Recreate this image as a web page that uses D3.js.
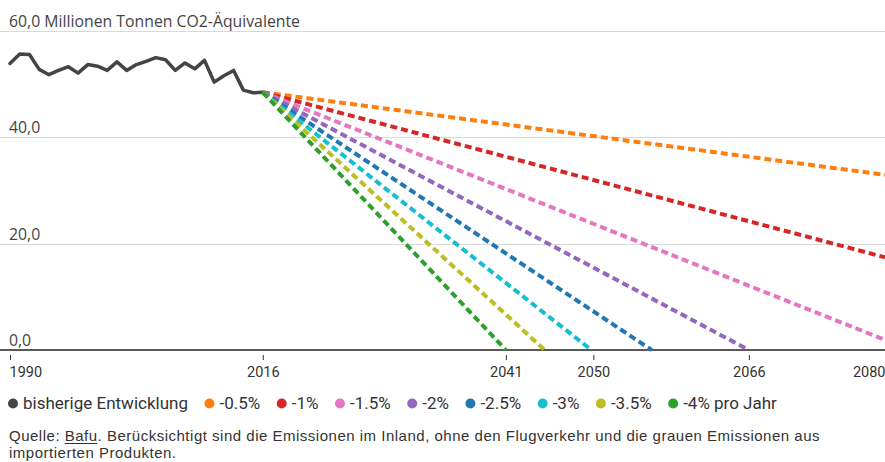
<!DOCTYPE html>
<html>
<head>
<meta charset="utf-8">
<script src="https://cdn.jsdelivr.net/npm/d3@7"></script>
<style>
  body { margin: 0; background: #fff; }
  svg { display: block; font-family: "Open Sans", Roboto, sans-serif; }
</style>
</head>
<body>
<div id="chart"></div>
<script>
// historical emissions, Mio. t CO2-eq
const histYears = [1990, 1991, 1992, 1993, 1994, 1995, 1996, 1997, 1998, 1999,
    2000, 2001, 2002, 2003, 2004, 2005, 2006, 2007, 2008, 2009,
    2010, 2011, 2012, 2013, 2014, 2015, 2016];
const histValues = [53.8, 55.6, 55.5, 52.7, 51.7, 52.5, 53.2, 52.0, 53.6, 53.3,
    52.5, 54.1, 52.5, 53.6, 54.2, 54.9, 54.5, 52.5, 53.9, 52.8,
    54.4, 50.3, 51.5, 52.5, 48.8, 48.3, 48.4];

// reduction paths, start at 2016 and run straight to these end points
const scenarioNames = ["-0.5%", "-1%", "-1.5%", "-2%", "-2.5%", "-3%", "-3.5%", "-4% pro Jahr"];
const scenarioColors = ["#ff7f0e", "#d62728", "#e377c2", "#9467bd", "#1f77b4", "#17becf", "#bcbd22", "#2ca02c"];
const scenarioEndYears = [2080, 2080, 2080, 2066, 2056, 2049.8, 2045, 2041];
const scenarioEndValues = [32.9, 17.4, 1.9, 0, 0, 0, 0, 0];

const yTicks = [0, 20, 40, 60];
const xTicks = [1990, 2016, 2041, 2050, 2066, 2080];

const noteLines = [
    "Quelle: Bafu. Berücksichtigt sind die Emissionen im Inland, ohne den Flugverkehr und die grauen Emissionen aus",
    "importierten Produkten."
];

const width = 885, height = 462;

const svg = d3.select("#chart").append("svg")
    .attr("width", width)
    .attr("height", height);

const x = d3.scaleLinear().domain([1990, 2080]).range([10, 885]);
const y = d3.scaleLinear().domain([0, 60]).range([350, 30.5]);

// grid + y labels
const grid = svg.append("g");
grid.selectAll("line")
    .data(yTicks.filter(d => d > 0))
    .enter().append("line")
    .attr("x1", 0).attr("x2", width)
    .attr("y1", d => Math.round(y(d)) + 0.5)
    .attr("y2", d => Math.round(y(d)) + 0.5)
    .attr("stroke", "#d9d9d9")
    .attr("stroke-width", 1);

grid.selectAll("text")
    .data(yTicks)
    .enter().append("text")
    .attr("x", 9)
    .attr("y", d => y(d) - 4)
    .attr("fill", "#444")
    .style("font-size", "15.8px")
    .text(d => d3.format(".1f")(d).replace(".", ",") + (d === 60 ? " Millionen Tonnen CO2-Äquivalente" : ""));

// x axis
const xAxis = svg.append("g")
    .attr("transform", `translate(0,${y(0)})`)
    .call(d3.axisBottom(x).tickValues(xTicks).tickFormat(d3.format("d")).tickSize(0));
xAxis.select(".domain").remove();
xAxis.selectAll(".tick line")
    .attr("y1", 5).attr("y2", 10)
    .attr("stroke", "#333");
xAxis.selectAll(".tick text")
    .attr("y", 27).attr("dy", null)
    .attr("fill", "#333")
    .style("font-size", "14.5px")
    .style("font-family", "Roboto, sans-serif")
    .attr("text-anchor", (d, i) => i === 0 ? "start" : (i === xTicks.length - 1 ? "end" : "middle"))
    .attr("x", (d, i) => i === 0 ? -1 : 0);

svg.append("line")
    .attr("x1", 0).attr("x2", width)
    .attr("y1", y(0)).attr("y2", y(0))
    .attr("stroke", "#222")
    .attr("stroke-width", 1.5);

// history
const line = d3.line().x(d => x(d[0])).y(d => y(d[1]));
const lastYear = histYears[histYears.length - 1];
const lastValue = histValues[histValues.length - 1];

svg.append("path")
    .datum(histYears.map((yr, i) => [yr, histValues[i]]))
    .attr("d", line)
    .attr("fill", "none")
    .attr("stroke", "#444")
    .attr("stroke-width", 3.5)
    .attr("stroke-linejoin", "round")
    .attr("stroke-linecap", "round");

// scenarios
svg.append("g").selectAll("path")
    .data(scenarioNames)
    .enter().append("path")
    .attr("d", (d, i) => line([[lastYear, lastValue], [scenarioEndYears[i], scenarioEndValues[i]]]))
    .attr("fill", "none")
    .attr("stroke", (d, i) => scenarioColors[i])
    .attr("stroke-width", 4)
    .attr("stroke-dasharray", "7,4");

// legend
const legendItems = [{ name: "bisherige Entwicklung", color: "#444" }]
    .concat(scenarioNames.map((n, i) => ({ name: n, color: scenarioColors[i] })));
const legend = svg.append("g");
let lx = 13;
legendItems.forEach(item => {
    legend.append("circle")
        .attr("cx", lx).attr("cy", 403.5).attr("r", 5)
        .attr("fill", item.color);
    const t = legend.append("text")
        .attr("x", lx + 10).attr("y", 409)
        .attr("fill", "#333")
        .style("font-size", "17px")
        .style("font-family", "Roboto, sans-serif")
        .text(item.name);
    lx += 10 + t.node().getComputedTextLength() + 21.5;
});

// source note (widened a touch with letter-spacing to the original line length)
const noteTexts = svg.append("g").selectAll("text")
    .data(noteLines)
    .enter().append("text")
    .attr("x", 9)
    .attr("y", (d, i) => 441 + i * 17)
    .attr("fill", "#333")
    .style("font-family", "'Liberation Sans', Arial, sans-serif")
    .style("font-size", "15px")
    .text(d => d);
const first = noteTexts.node();
const ls = Math.max(0, (811 - first.getComputedTextLength()) / noteLines[0].length);
noteTexts.style("letter-spacing", ls + "px");

// underline under "Bafu"
const start = noteLines[0].indexOf("Bafu");
const ux0 = 9 + first.getSubStringLength(0, start);
const ux1 = ux0 + first.getSubStringLength(start, 4) - ls;
svg.append("line")
    .attr("x1", ux0).attr("x2", ux1)
    .attr("y1", 443.5).attr("y2", 443.5)
    .attr("stroke", "#333")
    .attr("stroke-width", 1);
</script>
</body>
</html>
